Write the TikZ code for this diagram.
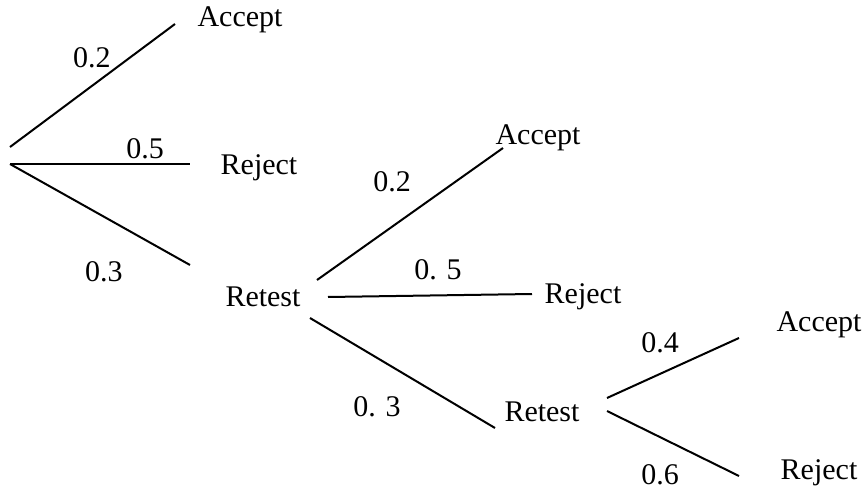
\documentclass[tikz,border=0pt]{standalone}
\usepackage{fontspec}
\setmainfont{Liberation Serif}
\usetikzlibrary{positioning}
\tikzset{
    branch/.style={line width=0.8pt},
    outcome/.style={font=\fontsize{12}{14}\selectfont, inner sep=0pt},
    prob/.style={font=\fontsize{12}{14}\selectfont, inner sep=0pt}
}
\begin{document}
\begin{tikzpicture}[x=0.4pt, y=-0.4pt]
        \useasboundingbox (0,0) rectangle (868,493);
        \coordinate (root) at (10,164);
        \coordinate (rootA) at (10,147);
        \coordinate (e1) at (175,24);
        \coordinate (e2) at (190,164);
        \coordinate (e3) at (190,265);
        \node[outcome] (acc1) at (240,20) {Accept};
        \node[outcome] (rej1) at (259,168) {Reject};
        \node[outcome] (ret1) at (263,297) {Retest};
        \draw[branch] (rootA) -- (e1);
        \draw[branch] (root) -- (e2);
        \draw[branch] (root) -- (e3);
        \node[prob] (p1) at (92,58) {0.2};
        \node[prob] (p2) at (145,149) {0.5};
        \node[prob] (p3) at (104,272) {0.3};
        \coordinate (r1a) at (317,280);
        \coordinate (r1b) at (328,297);
        \coordinate (r1c) at (310,318);
        \coordinate (f1) at (503,148);
        \coordinate (f2) at (532,294);
        \coordinate (f3) at (495,428);
        \node[outcome] (acc2) at (538,138) {Accept};
        \node[outcome] (rej2) at (583,297) {Reject};
        \node[outcome] (ret2) at (542,412) {Retest};
        \draw[branch] (r1a) -- (f1);
        \draw[branch] (r1b) -- (f2);
        \draw[branch] (r1c) -- (f3);
        \node[prob] (q1) at (392,182) {0.2};
        \node[prob] (q2) at (438,270) {0. 5};
        \node[prob] (q3) at (377,407) {0. 3};
        \coordinate (r2a) at (607,398);
        \coordinate (r2b) at (607,411);
        \coordinate (g1) at (739,338);
        \coordinate (g2) at (739,476);
        \node[outcome] (acc3) at (819,325) {Accept};
        \node[outcome] (rej3) at (819,473) {Reject};
        \draw[branch] (r2a) -- (g1);
        \draw[branch] (r2b) -- (g2);
        \node[prob] (s1) at (660,343) {0.4};
        \node[prob] (s2) at (660,475) {0.6};
    \end{tikzpicture}
\end{document}
